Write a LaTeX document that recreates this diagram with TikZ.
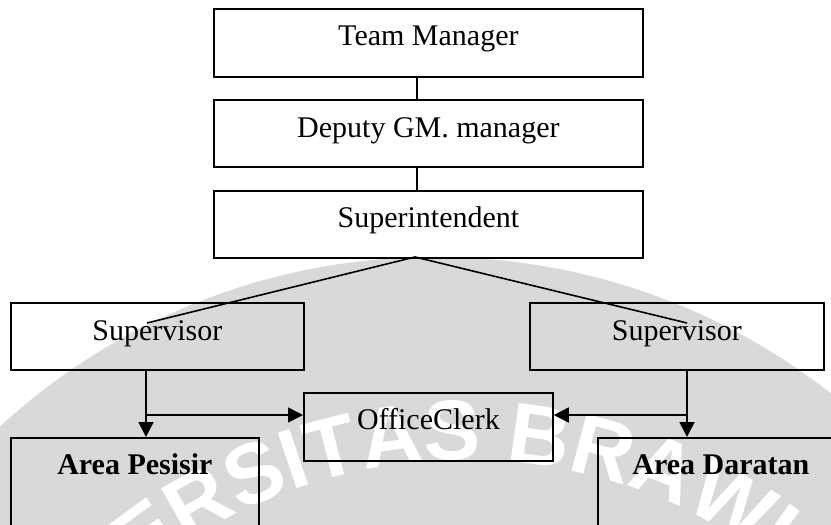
\documentclass[tikz,border=0pt]{standalone}
\usepackage{fontspec}
\setmainfont{Liberation Serif}
\setsansfont{Liberation Sans}
\usetikzlibrary{arrows.meta,decorations.text}
\begin{document}
\begin{tikzpicture}[x=1pt,y=1pt,
  box/.style={draw=black, line width=1.8pt, fill=none, inner sep=0pt, anchor=north west},
  lbl/.style={anchor=base, inner sep=0pt, font=\fontsize{30}{30}\selectfont},
  blbl/.style={lbl, font=\fontsize{30}{30}\selectfont\bfseries},
  link/.style={line width=1.6pt},
  arr/.style={line width=1.6pt, -{Triangle[length=15pt,width=15pt]}}]
\useasboundingbox (0,0) rectangle (831,-525);
\begin{scope}
\clip (0,0) rectangle (831,-525);
\fill[white] (0,0) rectangle (831,-525);
% grey seal behind the lower half, with its lettering
\fill[black!15] (435,-900) circle[radius=643];
\path[decorate, decoration={text along path, text align=center, text color=white,
  text={|\fontsize{85}{85}\selectfont\sffamily\bfseries|UNIVERSITAS BRAWIJAYA}}]
  (465,-970) ++(150:510) arc[start angle=150, end angle=30, radius=510];

% boxes
\node[box, minimum width=429pt, minimum height=68pt] (tm) at (213,-8) {};
\node[box, minimum width=429pt, minimum height=67pt] (dg) at (213,-99) {};
\node[box, minimum width=429pt, minimum height=67pt] (si) at (213,-190) {};
\node[box, minimum width=293pt, minimum height=67pt] (svl) at (10,-302) {};
\node[box, minimum width=294pt, minimum height=67pt] (svr) at (529,-302) {};
\node[box, minimum width=249pt, minimum height=68pt] (oc) at (303,-392) {};
\node[box, minimum width=248pt, minimum height=130pt] (ap) at (10,-437) {};
\node[box, minimum width=246pt, minimum height=130pt] (ad) at (597,-437) {};

% labels
\node[lbl] (tmt) at ([yshift=-37pt]tm.north) {Team Manager};
\node[lbl] (dgt) at ([yshift=-38pt]dg.north) {Deputy GM. manager};
\node[lbl] (sit) at ([yshift=-37pt]si.north) {Superintendent};
\node[lbl] (svlt) at ([yshift=-38pt]svl.north) {Supervisor};
\node[lbl] (svrt) at ([yshift=-38pt]svr.north) {Supervisor};
\node[lbl] (oct) at ([yshift=-37pt]oc.north) {OfficeClerk};
\node[blbl] (apt) at ([yshift=-37pt]ap.north) {Area Pesisir};
\node[blbl] (adt) at ([yshift=-37pt]ad.north) {Area Daratan};

% connectors
\coordinate (cx) at (417,0);
\draw[link] (tm.south -| cx) -- (dg.north -| cx);
\draw[link] (dg.south -| cx) -- (si.north -| cx);
\coordinate (apex) at (415,-257);
\coordinate (el) at (147,-323);
\coordinate (er) at (687,-323);
\draw[link] (el) -- (apex) -- (er);

\coordinate (lx) at (146,0);
\coordinate (rx) at (687,0);
\coordinate (ly) at (0,-415);
\draw[arr] (svl.south -| lx) -- (ap.north -| lx);
\draw[arr] (lx |- ly) -- (oc.west |- ly);
\draw[arr] (svr.south -| rx) -- (ad.north -| rx);
\draw[arr] (rx |- ly) -- (oc.east |- ly);
\end{scope}
\end{tikzpicture}
\end{document}
